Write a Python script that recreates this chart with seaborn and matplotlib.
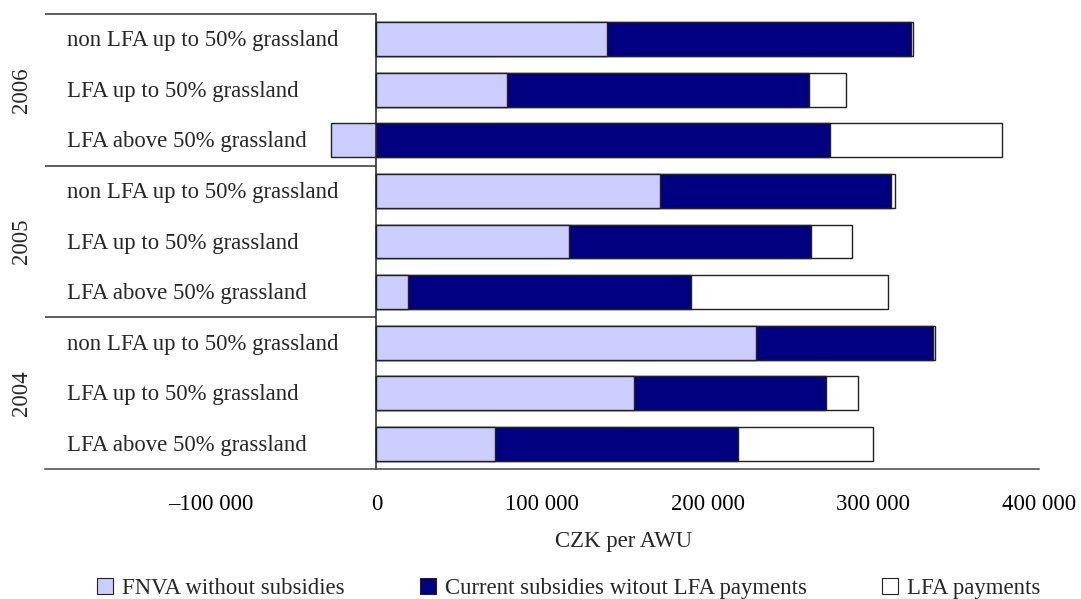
import pandas as pd
import matplotlib
matplotlib.use("Agg")
import matplotlib.pyplot as plt
import matplotlib.transforms as mtransforms
from matplotlib.patches import Patch
from matplotlib.ticker import FuncFormatter
import seaborn as sns

# Income per annual work unit, by year and farm group (CZK)
years = ["2006", "2005", "2004"]
farm_types = [
    "non LFA up to 50% grassland",
    "LFA up to 50% grassland",
    "LFA above 50% grassland",
]
fnva = [139400, 78700, -27500, 171400, 116500, 19000, 228900, 155500, 71500]
subsidies = [183500, 182200, 274100, 139500, 146000, 171100, 106900, 116200, 146700]
lfa_payments = [1000, 22500, 103400, 2400, 24900, 119000, 1500, 18900, 81700]
series_names = [
    "FNVA without subsidies",
    "Current subsidies witout LFA payments",
    "LFA payments",
]
x_ticks = [-100000, 0, 100000, 200000, 300000, 400000]

LIGHT = "#CCCCFF"
DARK = "#000080"
FS = 16.4

sns.set_style("white")
plt.rcParams["font.family"] = ["Liberation Serif", "DejaVu Serif"]

rows = [f"{y} | {t}" for y in years for t in farm_types]
df = pd.DataFrame({"row": rows, "fnva": fnva, "subs": subsidies, "lfa": lfa_payments})
# positive parts stack from zero; a negative FNVA extends to the left of zero
df["to_subs"] = df["fnva"].clip(lower=0) + df["subs"]
df["to_lfa"] = df["to_subs"] + df["lfa"]

fig = plt.figure(figsize=(10.81, 5.99), dpi=100)
ax = fig.add_axes([45 / 1081, 1 - 469 / 599, 994 / 1081, 455 / 599])

bar_kw = dict(data=df, y="row", orient="h", order=rows, width=0.67,
              edgecolor="#222222", linewidth=1.0, saturation=1,
              errorbar=None, ax=ax)
sns.barplot(x="to_lfa", color="white", **bar_kw)
sns.barplot(x="to_subs", color=DARK, **bar_kw)
sns.barplot(x="fnva", color=LIGHT, **bar_kw)

ax.set_xlim(-200000, 400000)
ax.set_ylim(8.5, -0.5)
ax.set_xticks(x_ticks)


def fmt(v, _pos):
    s = f"{abs(v):,.0f}".replace(",", " ")
    return ("\u2013" + s) if v < 0 else s


ax.xaxis.set_major_formatter(FuncFormatter(fmt))
ax.set_yticks([0.5, 1.5, 3.5, 4.5, 6.5, 7.5])
ax.set_yticklabels([])
ax.set_ylabel("")

for side in ("top", "right"):
    ax.spines[side].set_visible(False)
ax.spines["left"].set_position(("data", 0))
ax.spines["left"].set_color("#222222")
ax.spines["bottom"].set_color("#444444")
for side in ("left", "bottom"):
    ax.spines[side].set_linewidth(1.1)

ax.tick_params(axis="y", length=5, width=1.1, direction="out", color="#444444")
ax.tick_params(axis="x", length=6, width=1, direction="out", color="#333333",
               pad=12, labelsize=FS, labelcolor="black")

# group separators on the label side
ax.hlines([-0.5, 2.5, 5.5], -200000, 0, color="#333333", lw=1.1, clip_on=False)

blend = mtransforms.blended_transform_factory(ax.transAxes, ax.transData)
for i, r in enumerate(rows):
    ax.text(0.022, i + 0.03, r.split(" | ")[1], transform=blend, ha="left",
            va="center", fontsize=FS)
for g, y in enumerate(years):
    ax.text(-0.024, 3 * g + 1, y, transform=blend, rotation=90, ha="center",
            va="center", fontsize=FS)

ax.set_xlabel("CZK per AWU", fontsize=FS)
ax.xaxis.set_label_coords(0.5825, -0.137)

handles = [Patch(facecolor=c, edgecolor="#222222", linewidth=0.8)
           for c in (LIGHT, DARK, "white")]
fig.legend(handles, series_names, loc="center", bbox_to_anchor=(0.526, 0.018),
           ncol=3, frameon=False, fontsize=FS, handlelength=0.7,
           handleheight=0.7, handletextpad=0.4, columnspacing=3.3)

fig.savefig("out.png", dpi=100)
